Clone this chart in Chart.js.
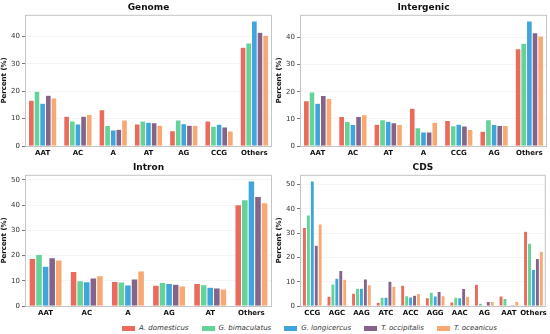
<!DOCTYPE html>
<html>
<head>
<meta charset="utf-8">
<script src="https://cdn.jsdelivr.net/npm/chart.js@4.4.1/dist/chart.umd.min.js"></script>
<style>
    body { margin: 0; background: #fff; width: 550px; height: 334px; overflow: hidden; position: relative; font-family: "DejaVu Sans", sans-serif; }
    .panel { position: absolute; }
    #legenda { position: absolute; left: 122px; top: 324px; display: flex; align-items: center; font-size: 7px; font-style: italic; color: #333; }
    .item { display: flex; align-items: center; margin-right: 13px; }
    .caixa { width: 13px; height: 5px; margin-right: 4px; }
</style>
</head>
<body>
<canvas id="genome" class="panel" width="275" height="160" style="left:0;top:0"></canvas>
<canvas id="intergenic" class="panel" width="275" height="160" style="left:275px;top:0"></canvas>
<canvas id="intron" class="panel" width="275" height="160" style="left:0;top:160px"></canvas>
<canvas id="cds" class="panel" width="275" height="160" style="left:275px;top:160px"></canvas>
<div id="legenda"></div>
<script>
const especies = ['A. domesticus', 'G. bimaculatus', 'G. longicercus', 'T. occipitalis', 'T. oceanicus'];
const cores = ['#EA6A5C', '#63D398', '#40A5DA', '#86648A', '#F8A873'];

// Genome
const genomeLabels = ['AAT', 'AC', 'A', 'AT', 'AG', 'CCG', 'Others'];
const genomeValores = [
    [16.7, 10.9, 13.2, 8.0, 5.6, 9.1, 36.0],
    [20.0, 9.1, 7.5, 9.1, 9.5, 7.2, 37.6],
    [15.6, 8.0, 5.8, 8.7, 8.1, 7.9, 45.6],
    [18.5, 10.9, 6.1, 8.5, 7.6, 6.9, 41.5],
    [17.5, 11.5, 9.5, 7.6, 7.6, 5.5, 40.4]
];

// Intergenic
const intergenicLabels = ['AAT', 'AC', 'AT', 'A', 'CCG', 'AG', 'Others'];
const intergenicValores = [
    [16.7, 10.9, 8.0, 13.9, 9.4, 5.4, 35.9],
    [19.9, 9.0, 9.7, 6.7, 7.5, 9.7, 37.9],
    [15.8, 7.9, 9.1, 5.2, 8.0, 7.9, 46.1],
    [18.6, 10.9, 8.6, 5.2, 7.4, 7.6, 41.8],
    [17.5, 11.5, 7.9, 8.8, 6.1, 7.6, 40.6]
];

// Intron
const intronLabels = ['AAT', 'AC', 'A', 'AG', 'AT', 'Others'];
const intronValores = [
    [18.8, 13.7, 9.7, 8.2, 8.9, 40.1],
    [20.4, 10.0, 9.5, 9.3, 8.4, 42.1],
    [15.7, 9.6, 8.3, 8.9, 7.4, 49.5],
    [19.1, 11.1, 10.7, 8.6, 7.1, 43.4],
    [18.2, 12.0, 13.9, 7.9, 6.7, 40.9]
];

// CDS
const cdsLabels = ['CCG', 'AGC', 'AAG', 'ATC', 'ACC', 'AGG', 'AAC', 'AG', 'AAT', 'Others'];
const cdsValores = [
    [32.3, 4.0, 5.2, 1.5, 8.5, 3.4, 1.6, 8.9, 4.1, 30.7],
    [37.4, 9.0, 7.3, 3.6, 4.2, 5.7, 3.6, 1.1, 3.1, 25.8],
    [51.4, 11.4, 7.3, 3.6, 3.7, 4.1, 3.4, 0.2, 0.2, 15.0],
    [25.0, 14.6, 11.1, 10.2, 4.4, 6.0, 7.2, 1.8, 0.4, 19.5],
    [33.7, 11.0, 8.7, 8.1, 5.1, 4.2, 4.0, 1.9, 1.8, 22.5]
];

const fonte = '"DejaVu Sans", sans-serif';

// moldura cinza em volta da area do grafico
const moldura = {
    id: 'moldura',
    afterDraw(chart) {
        const a = chart.chartArea;
        const ctx = chart.ctx;
        ctx.save();
        ctx.strokeStyle = '#c4c4c4';
        ctx.lineWidth = 1;
        ctx.strokeRect(a.left + 0.5, a.top + 0.5, a.right - a.left - 1, a.bottom - a.top);
        ctx.restore();
    }
};

function criarPainel(id, titulo, labels, valores) {
    const maximo = Math.max(...valores.flat()) * 1.05;
    const canva = document.getElementById(id).getContext('2d');
    return new Chart(canva, {
        type: 'bar',
        data: {
            labels: labels,
            datasets: especies.map((nome, i) => ({
                label: nome,
                data: valores[i],
                backgroundColor: cores[i],
                borderColor: 'rgba(255,255,255,0.55)',
                borderWidth: 0.5,
                categoryPercentage: 0.8,
                barPercentage: 1.0
            }))
        },
        options: {
            responsive: false,
            animation: false,
            layout: { padding: { left: 0, right: 3, top: 0, bottom: 0 } },
            plugins: {
                legend: { display: false },
                tooltip: { enabled: false },
                title: {
                    display: true,
                    text: titulo,
                    fullSize: false,
                    color: '#111',
                    font: { family: fonte, size: 9, weight: 'bold', lineHeight: 1.2 },
                    padding: { top: 2, bottom: 2 }
                }
            },
            scales: {
                x: {
                    grid: { display: false, drawTicks: false },
                    border: { display: false },
                    ticks: {
                        autoSkip: false,
                        maxRotation: 0,
                        minRotation: 0,
                        color: '#111',
                        padding: 3,
                        font: { family: fonte, size: 7, weight: 'bold' }
                    },
                    afterFit(scale) { scale.height = 14; }
                },
                y: {
                    min: 0,
                    max: maximo,
                    border: { display: false },
                    grid: { color: '#efefef', lineWidth: 0.6, tickColor: '#555', tickLength: 3, tickWidth: 0.8 },
                    ticks: { stepSize: 10, includeBounds: false, color: '#333', padding: 2, font: { family: fonte, size: 7 } },
                    title: {
                        display: true,
                        text: 'Percent (%)',
                        color: '#111',
                        padding: 0,
                        font: { family: fonte, size: 7, weight: 'bold' }
                    },
                    afterFit(scale) { scale.width = 25; }
                }
            }
        },
        plugins: [moldura]
    });
}

criarPainel('genome', 'Genome', genomeLabels, genomeValores);
criarPainel('intergenic', 'Intergenic', intergenicLabels, intergenicValores);
criarPainel('intron', 'Intron', intronLabels, intronValores);
criarPainel('cds', 'CDS', cdsLabels, cdsValores);

// legenda
const legenda = document.getElementById('legenda');
especies.forEach((nome, i) => {
    const item = document.createElement('div');
    item.className = 'item';
    const caixa = document.createElement('span');
    caixa.className = 'caixa';
    caixa.style.background = cores[i];
    const texto = document.createElement('span');
    texto.textContent = nome;
    item.appendChild(caixa);
    item.appendChild(texto);
    legenda.appendChild(item);
});
</script>
</body>
</html>
